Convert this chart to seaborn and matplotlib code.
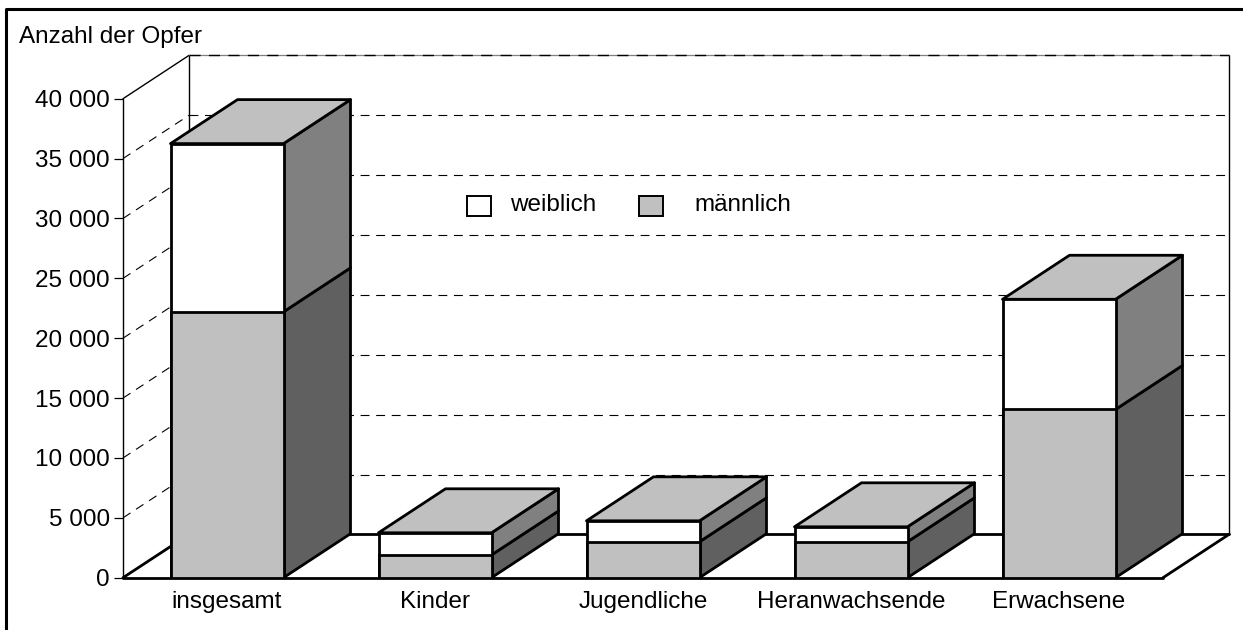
# Opfer nach Altersgruppe und Geschlecht, gestapelte 3D-Optik
import pandas as pd
import matplotlib.pyplot as plt
from matplotlib.legend_handler import HandlerPatch
from matplotlib.lines import Line2D
from matplotlib.patches import Patch, Polygon, Rectangle
import seaborn as sns

kategorien = ["insgesamt", "Kinder", "Jugendliche", "Heranwachsende", "Erwachsene"]
maennlich = [22200, 1900, 3000, 3000, 14050]
gesamt = [36250, 3750, 4750, 4250, 23250]
y_ticks = [0, 5000, 10000, 15000, 20000, 25000, 30000, 35000, 40000]

sns.set_style("white")
plt.rcParams["font.family"] = ["Liberation Sans", "DejaVu Sans"]
plt.rcParams["font.size"] = 17.5
plt.rcParams["text.color"] = "black"

df = pd.DataFrame({"kategorie": kategorien, "maennlich": maennlich, "gesamt": gesamt})

fig = plt.figure(figsize=(12.43, 6.30), dpi=100)
ax = fig.add_axes([123 / 1243, 52.3 / 630, 1040 / 1243, 479 / 630])

BAR_W = 113 / 208
# Tiefe in Datenkoordinaten
WALL_DX, WALL_DY = 66 / 208, 43.3 * 40000 / 479
BAR_DX, BAR_DY = 67 / 208, 44 * 40000 / 479
EDGE = 2.0

sns.barplot(data=df, x="kategorie", y="gesamt", color="white", saturation=1,
            width=BAR_W, edgecolor="black", linewidth=EDGE, zorder=4, ax=ax)
sns.barplot(data=df, x="kategorie", y="maennlich", color="#c0c0c0", saturation=1,
            width=BAR_W, edgecolor="black", linewidth=EDGE, zorder=4, ax=ax)

ax.set_xlim(-0.5, 4.5)
ax.set_ylim(0, 40000)


def line(xs, ys, lw=1.0, ls="-", z=1):
    ax.plot(xs, ys, color="black", lw=lw, ls=ls, zorder=z, clip_on=False,
            solid_capstyle="round")


x0, x1 = -0.5, 4.5
dash = (0, (8, 6))
# Wand und Boden
line([x0, x0], [0, 40000])
line([x0, x0 + WALL_DX], [40000, 40000 + WALL_DY])
line([x0 + WALL_DX, x0 + WALL_DX], [WALL_DY, 40000 + WALL_DY])
line([x1 + WALL_DX, x1 + WALL_DX], [WALL_DY, 40000 + WALL_DY])
ax.plot([x0 + WALL_DX, x1 + WALL_DX], [40000 + WALL_DY] * 2, color="#808080", lw=0.9,
        zorder=1, clip_on=False)
for t in y_ticks[1:]:
    lw = 1.0 if t == 40000 else 0.8
    ax.plot([x0 + WALL_DX, x1 + WALL_DX], [t + WALL_DY] * 2, color="black", lw=lw,
            ls=dash, zorder=1, clip_on=False)
    if t < 40000:
        ax.plot([x0, x0 + WALL_DX], [t, t + WALL_DY], color="black", lw=0.8,
                ls=dash, zorder=1, clip_on=False)
line([x0, x0 + WALL_DX], [0, WALL_DY], lw=EDGE, z=2)
line([x0 + WALL_DX, x1 + WALL_DX], [WALL_DY, WALL_DY], lw=EDGE, z=2)
line([x1, x1 + WALL_DX], [0, WALL_DY], lw=EDGE, z=2)
line([x0, x1], [0, 0], lw=EDGE, z=2)

# Seiten und Deckel der Saeulen
for i, (m, g) in enumerate(zip(maennlich, gesamt)):
    r = i + BAR_W / 2
    l = i - BAR_W / 2
    faces = [
        ([(r, 0), (r + BAR_DX, BAR_DY), (r + BAR_DX, m + BAR_DY), (r, m)], "#606060"),
        ([(r, m), (r + BAR_DX, m + BAR_DY), (r + BAR_DX, g + BAR_DY), (r, g)], "#808080"),
        ([(l, g), (l + BAR_DX, g + BAR_DY), (r + BAR_DX, g + BAR_DY), (r, g)], "#c0c0c0"),
    ]
    for pts, col in faces:
        ax.add_patch(Polygon(pts, closed=True, facecolor=col, edgecolor="black",
                             linewidth=EDGE, joinstyle="round", zorder=3, clip_on=False))

sns.despine(ax=ax, left=True, bottom=True)
ax.set_xlabel("")
ax.set_ylabel("")
ax.set_yticks(y_ticks)
ax.set_yticklabels([f"{t:,}".replace(",", " ") for t in y_ticks])
ax.tick_params(axis="y", left=True, length=6.5, width=0.9, color="black", pad=3,
               labelsize=17.5, labelcolor="black")
ax.tick_params(axis="x", bottom=False, pad=6, labelsize=17.5, labelcolor="black")

fig.text(19 / 1243, 1 - 37 / 630, "Anzahl der Opfer", ha="left", va="center")


# Kaestchen sitzen im Original etwas tiefer als der Text
def tiefes_kaestchen(legend, orig_handle, xdescent, ydescent, width, height, fontsize):
    return Rectangle((-xdescent, -ydescent - 2.2), width, height)


def legend_eintrag(farbe, name, xpix, pad):
    leg = ax.legend(handles=[Patch(facecolor=farbe, edgecolor="black", linewidth=1.4, label=name)],
                    handler_map={Patch: HandlerPatch(patch_func=tiefes_kaestchen)},
                    frameon=False, handlelength=1.0, handleheight=0.9, handletextpad=pad,
                    loc="center left", bbox_to_anchor=((xpix - 123) / 1040, (578 - 205) / 479),
                    borderpad=0, borderaxespad=0)
    leg.set_zorder(5)
    return leg


ax.add_artist(legend_eintrag("white", "weiblich", 467, 0.78))
legend_eintrag("#c0c0c0", "männlich", 639, 1.27)

# Rahmen nur oben und links
fig.add_artist(Line2D([6 / 1243, 6 / 1243, 1], [0, 1 - 9 / 630, 1 - 9 / 630],
                      color="black", lw=2.2, transform=fig.transFigure))

fig.savefig("out.png", dpi=100)
